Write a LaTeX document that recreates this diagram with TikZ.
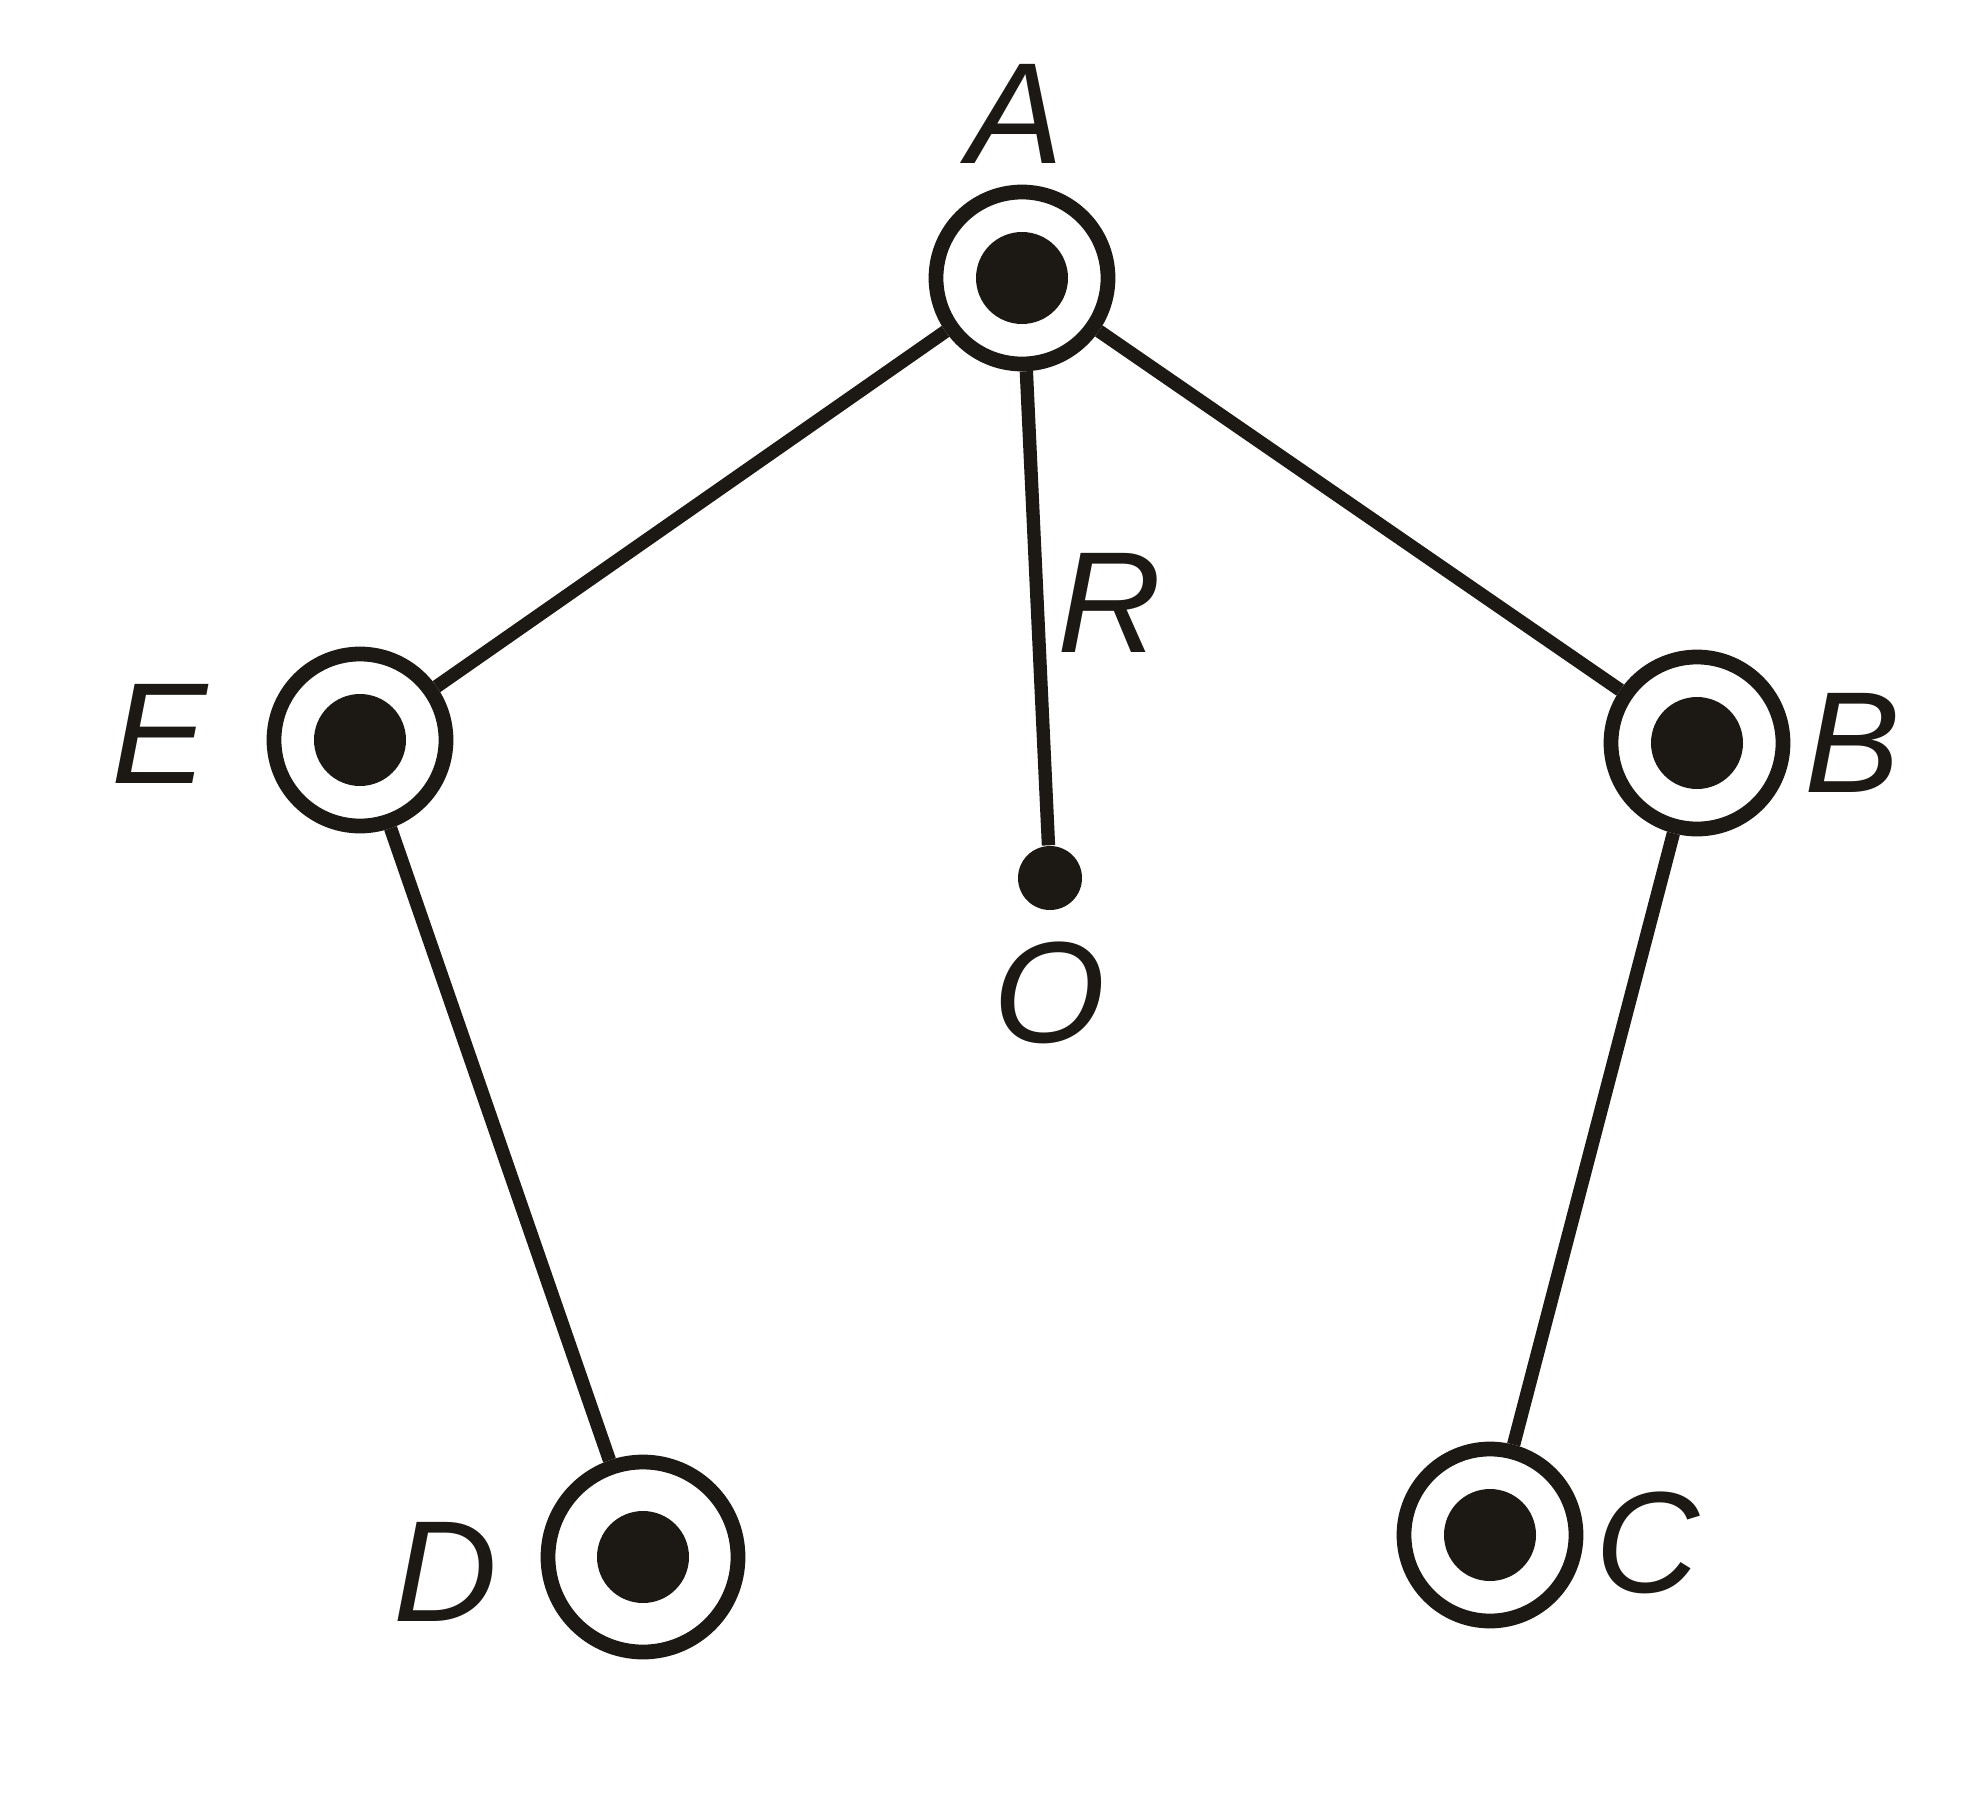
\documentclass[tikz,border=0pt]{standalone}
\usepackage{fontspec}
\setsansfont{Liberation Sans}
\usepackage{tikz}
\usetikzlibrary{positioning}
\definecolor{ink}{RGB}{28,24,20}
\tikzstyle{wire} = [draw, ink, line width=3.8pt]
\tikzstyle{ring} = [circle, draw=ink, line width=4.2pt, minimum size=1.72cm, inner sep=0pt,
  path picture={\fill[ink] (path picture bounding box.center) circle (0.46cm);}]
\tikzstyle{pin} = [circle, fill=ink, minimum size=0.64cm, inner sep=0pt]
\tikzstyle{lbl} = [ink, inner sep=0pt, font={\sffamily\itshape\fontsize{41}{41}\selectfont}]

\begin{document}
\begin{tikzpicture}[
      node distance = 1.6cm
    ]
      \useasboundingbox (0,0) rectangle (19.80,-18.07);

      \node[ring] (ringA) at (10.22,-2.78)  {};
      \node[ring] (ringB) at (16.97,-7.43)  {};
      \node[ring] (ringC) at (14.90,-15.35) {};
      \node[ring, minimum size=1.9cm] (ringD) at (6.43,-15.57) {};
      \node[ring] (ringE) at (3.60,-7.40)   {};
      \node[pin]  (pinO)  at (10.50,-8.78)  {};

      \node[lbl] (labA) [above of=ringA, node distance=1.64cm, xshift=-0.06cm] {A};
      \node[lbl] (labB) [right of=ringB, node distance=1.56cm]                 {B};
      \node[lbl] (labC) [right of=ringC, node distance=1.58cm, yshift=-0.08cm] {C};
      \node[lbl] (labD) [left of=ringD,  node distance=1.97cm, yshift=-0.15cm] {D};
      \node[lbl] (labE) [left of=ringE,  node distance=2.0cm,  yshift=0.06cm]  {E};
      \node[lbl] (labO) [below of=pinO,  node distance=1.15cm]                 {O};

      \path[wire] (ringA) edge (ringE);
      \path[wire] (ringA) edge (ringB);
      \path[wire] (ringE) edge (ringD);
      \path[wire] (ringB) edge (ringC);
      \path[wire] (ringA) edge node[lbl, pos=0.5, xshift=0.72cm, yshift=0.05cm] (labR) {R} (pinO);
    \end{tikzpicture}
\end{document}
